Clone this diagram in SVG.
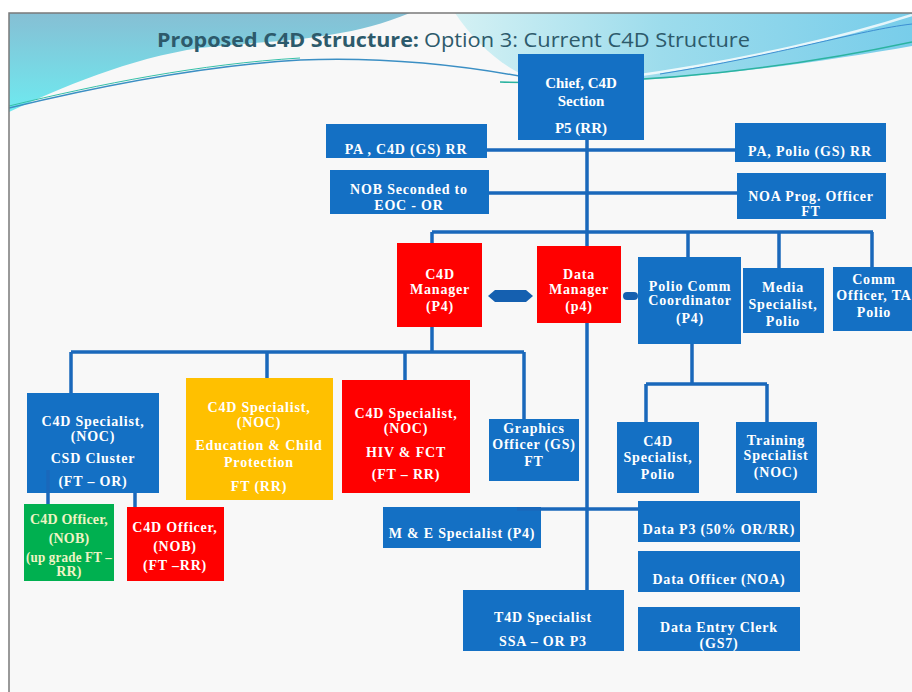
<svg xmlns="http://www.w3.org/2000/svg" width="912" height="692" viewBox="0 0 912 692">
<defs>
<linearGradient id="gl" x1="0" y1="0" x2="0" y2="1"><stop offset="0" stop-color="#86bfd4"/><stop offset="1" stop-color="#6eeaf0"/></linearGradient>
<linearGradient id="gr" x1="0" y1="0" x2="1" y2="0"><stop offset="0" stop-color="#d4f1f4"/><stop offset="0.45" stop-color="#9ddcec"/><stop offset="1" stop-color="#78cdea"/></linearGradient>
</defs>
<style>
.bl{fill:#1470c4}
.rd{fill:#ff0000}
.yl{fill:#ffc000}
.gn{fill:#00b050}
.t{font-family:"Liberation Serif",serif;font-weight:bold;font-size:14px;letter-spacing:0.8px;fill:#ffffff;text-anchor:middle}
.big{font-size:15px;letter-spacing:0}
.gt{fill:#eef4c4;letter-spacing:0.2px}
.cn{fill:none;stroke:#1a68bb;stroke-width:3.5}
</style>
<rect x="0" y="0" width="912" height="692" fill="#ffffff"/>
<rect x="9" y="13" width="903" height="679" fill="#f8f8f8"/>
<path d="M9,112 C60,88 130,58 200,48 C270,40 340,42 410,13 H9 Z" fill="url(#gl)"/>
<path d="M455,13 H912 V46 C820,62 700,80 560,84 C520,84 480,50 455,13 Z" fill="url(#gr)"/>
<path d="M9,108 C100,86 200,66 300,60 C400,56 480,68 540,80" fill="none" stroke="#3b8fc4" stroke-width="1.5"/>
<path d="M9,106 C100,84 200,64 300,58" fill="none" stroke="#35c0a8" stroke-width="1"/>
<path d="M500,82 C650,86 800,66 912,42" fill="none" stroke="#2bb3a0" stroke-width="1.5"/>
<path d="M620,78 C750,60 850,35 912,15" fill="none" stroke="#ffffff" stroke-width="2.5" opacity="0.8"/>
<path d="M660,74 C780,55 860,30 912,24" fill="none" stroke="#3d8fd2" stroke-width="1"/>
<path d="M9,692 V13 H912" fill="none" stroke="#7a7a7a" stroke-width="1.5"/>
<text x="157" y="47" font-family="Open Sans, sans-serif" font-weight="bold" font-size="20" fill="#2d5a6b" textLength="262" lengthAdjust="spacingAndGlyphs">Proposed C4D Structure:</text>
<text x="424" y="47" font-family="Open Sans, sans-serif" font-size="20" fill="#2d5a6b" textLength="326" lengthAdjust="spacingAndGlyphs">Option 3: Current C4D Structure</text>

<g id="chief"><rect class="bl" x="518" y="54" width="126" height="86"/><text class="t big"><tspan x="581" y="88">Chief, C4D</tspan><tspan x="581" y="106">Section</tspan><tspan x="581" y="133">P5 (RR)</tspan></text></g>
<g id="pa-c4d"><rect class="bl" x="326" y="124" width="161" height="34"/><text class="t"><tspan x="406" y="154">PA , C4D (GS) RR</tspan></text></g>
<g id="pa-polio"><rect class="bl" x="735" y="123" width="151" height="39"/><text class="t"><tspan x="810" y="156">PA, Polio (GS) RR</tspan></text></g>
<g id="nob-eoc"><rect class="bl" x="330" y="170" width="159" height="44"/><text class="t"><tspan x="409" y="194">NOB Seconded to</tspan><tspan x="409" y="210">EOC - OR</tspan></text></g>
<g id="noa-prog"><rect class="bl" x="737" y="173" width="149" height="46"/><text class="t"><tspan x="811" y="201">NOA Prog. Officer</tspan><tspan x="811" y="216">FT</tspan></text></g>
<g id="c4d-manager"><rect class="rd" x="397" y="243" width="85" height="84"/><text class="t"><tspan x="440" y="279">C4D</tspan><tspan x="440" y="294">Manager</tspan><tspan x="440" y="311">(P4)</tspan></text></g>
<g id="data-manager"><rect class="rd" x="537" y="246" width="84" height="77"/><text class="t"><tspan x="579" y="279">Data</tspan><tspan x="579" y="294">Manager</tspan><tspan x="579" y="311">(p4)</tspan></text></g>
<g id="polio-comm"><rect class="bl" x="638" y="257" width="103" height="87"/><text class="t"><tspan x="690" y="291">Polio Comm</tspan><tspan x="690" y="305">Coordinator</tspan><tspan x="690" y="323">(P4)</tspan></text></g>
<g id="media"><rect class="bl" x="743" y="268" width="81" height="65"/><text class="t"><tspan x="783" y="292">Media</tspan><tspan x="783" y="309">Specialist,</tspan><tspan x="783" y="326">Polio</tspan></text></g>
<g id="comm-officer"><rect class="bl" x="833" y="267" width="84" height="64"/><text class="t"><tspan x="874" y="284">Comm</tspan><tspan x="874" y="300">Officer, TA</tspan><tspan x="874" y="317">Polio</tspan></text></g>
<g id="csd"><rect class="bl" x="27" y="393" width="132" height="100"/><text class="t"><tspan x="93" y="426">C4D Specialist,</tspan><tspan x="93" y="441">(NOC)</tspan><tspan x="93" y="463">CSD Cluster</tspan><tspan x="93" y="486">(FT – OR)</tspan></text></g>
<g id="education"><rect class="yl" x="186" y="378" width="147" height="122"/><text class="t"><tspan x="259" y="412">C4D Specialist,</tspan><tspan x="259" y="427">(NOC)</tspan><tspan x="259" y="450">Education &amp; Child</tspan><tspan x="259" y="467">Protection</tspan><tspan x="259" y="491">FT (RR)</tspan></text></g>
<g id="hiv"><rect class="rd" x="342" y="380" width="128" height="113"/><text class="t"><tspan x="406" y="418">C4D Specialist,</tspan><tspan x="406" y="433">(NOC)</tspan><tspan x="406" y="457">HIV &amp; FCT</tspan><tspan x="406" y="479">(FT – RR)</tspan></text></g>
<g id="graphics"><rect class="bl" x="489" y="419" width="90" height="62"/><text class="t"><tspan x="534" y="433">Graphics</tspan><tspan x="534" y="449">Officer (GS)</tspan><tspan x="534" y="466">FT</tspan></text></g>
<g id="c4d-polio"><rect class="bl" x="617" y="422" width="82" height="71"/><text class="t"><tspan x="658" y="446">C4D</tspan><tspan x="658" y="462">Specialist,</tspan><tspan x="658" y="479">Polio</tspan></text></g>
<g id="training"><rect class="bl" x="736" y="422" width="81" height="71"/><text class="t"><tspan x="776" y="445">Training</tspan><tspan x="776" y="460">Specialist</tspan><tspan x="776" y="477">(NOC)</tspan></text></g>
<g id="officer-green"><rect class="gn" x="24" y="504" width="90" height="77"/><text class="t gt"><tspan x="69" y="524">C4D Officer,</tspan><tspan x="69" y="543">(NOB)</tspan><tspan x="69" y="562" textLength="86" lengthAdjust="spacingAndGlyphs">(up grade FT –</tspan><tspan x="69" y="576">RR)</tspan></text></g>
<g id="officer-red"><rect class="rd" x="127" y="507" width="97" height="74"/><text class="t"><tspan x="175" y="532">C4D Officer,</tspan><tspan x="175" y="551">(NOB)</tspan><tspan x="175" y="570">(FT –RR)</tspan></text></g>
<g id="me"><rect class="bl" x="383" y="507" width="158" height="41"/><text class="t"><tspan x="462" y="538">M &amp; E Specialist (P4)</tspan></text></g>
<g id="data-p3"><rect class="bl" x="638" y="501" width="162" height="41"/><text class="t"><tspan x="719" y="534">Data P3 (50% OR/RR)</tspan></text></g>
<g id="data-officer"><rect class="bl" x="638" y="551" width="162" height="41"/><text class="t"><tspan x="719" y="584">Data Officer (NOA)</tspan></text></g>
<g id="data-entry"><rect class="bl" x="638" y="607" width="162" height="44"/><text class="t"><tspan x="719" y="632">Data Entry Clerk</tspan><tspan x="719" y="648">(GS7)</tspan></text></g>
<g id="t4d"><rect class="bl" x="463" y="590" width="161" height="61"/><text class="t"><tspan x="543" y="622">T4D Specialist</tspan><tspan x="543" y="646">SSA – OR P3</tspan></text></g>

<g id="connectors">
<path class="cn" d="M587,140 V246 M587,323 V590"/>
<path class="cn" d="M487,150 H735 M489,193 H737"/>
<path class="cn" d="M432,232 H873 M432,232 V243 M688,232 V257 M779,232 V268 M872,232 V267"/>
<path class="cn" d="M432,327 V352 M71,352 H524 M71,352 V393 M267,352 V378 M405,352 V380 M524,352 V419"/>
<path class="cn" d="M692,344 V384 M646,384 H767 M646,384 V422 M767,384 V422"/>
<path class="cn" d="M48,470 V504 M135,493 V507"/>
<path class="cn" d="M517,509 H638"/>
<path d="M488,296 L495,290 H526 L533,296 L526,302 H495 Z" fill="#1560b0"/>
<rect x="623" y="292" width="15" height="8" rx="4" fill="#1560b0"/>
</g>
</svg>
